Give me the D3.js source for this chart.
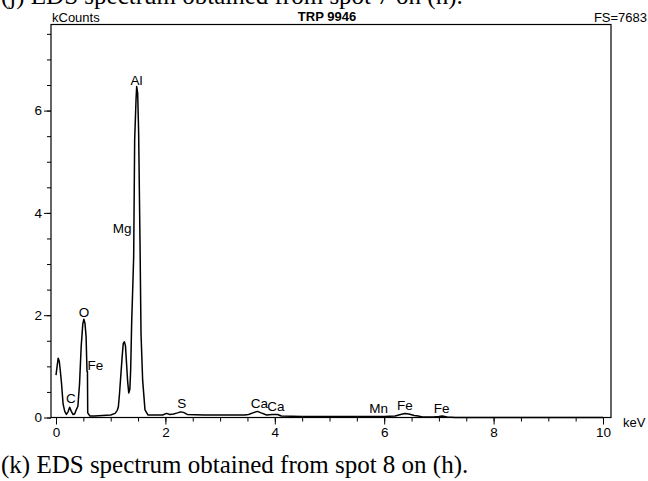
<!DOCTYPE html>
<html>
<head>
<meta charset="utf-8">
<script src="https://cdn.jsdelivr.net/npm/d3@7"></script>
<style>
  body { margin: 0; background: #fff; }
  svg { display: block; }
</style>
</head>
<body>
<div id="spectrum"></div>
<script>
// spectrum (keV, kCounts)
var energy = [0.00, 0.02, 0.04, 0.06, 0.08, 0.10, 0.13, 0.16, 0.19, 0.22, 0.25, 0.28, 0.31, 0.34, 0.37, 0.40,
  0.43, 0.46, 0.49, 0.51, 0.53, 0.55, 0.567, 0.575, 0.58, 0.62, 0.70, 0.85, 1.00, 1.08, 1.12, 1.14, 1.16, 1.18,
  1.21, 1.23, 1.25, 1.27, 1.29, 1.31, 1.33, 1.35, 1.365, 1.383, 1.40, 1.42, 1.438, 1.463, 1.475, 1.493, 1.511,
  1.536, 1.554, 1.584, 1.627, 1.68, 1.80, 1.95, 2.02, 2.08, 2.15, 2.22, 2.28, 2.33, 2.40, 2.7, 3.0, 3.3, 3.45,
  3.52, 3.60, 3.68, 3.75, 3.85, 3.95, 4.05, 4.12, 4.5, 5.0, 5.5, 6.0, 6.2, 6.3, 6.38, 6.45, 6.55, 6.62, 6.7,
  6.9, 7.0, 7.06, 7.15, 7.3, 8.0, 9.0, 10.0];
var counts = [0.83, 1.00, 1.16, 1.10, 0.90, 0.68, 0.26, 0.12, 0.06, 0.11, 0.20, 0.12, 0.06, 0.07, 0.15, 0.22,
  0.65, 1.38, 1.83, 1.92, 1.84, 1.58, 0.90, 0.90, 0.09, 0.03, 0.03, 0.04, 0.05, 0.08, 0.14, 0.21, 0.45, 0.75,
  1.20, 1.45, 1.48, 1.40, 1.05, 0.70, 0.48, 0.55, 0.93, 1.84, 2.43, 3.14, 5.42, 6.21, 6.47, 6.34, 5.56,
  3.41, 1.65, 0.73, 0.15, 0.05, 0.05, 0.05, 0.08, 0.06, 0.07, 0.09, 0.11, 0.10, 0.06, 0.05, 0.05, 0.05, 0.05,
  0.06, 0.09, 0.12, 0.09, 0.05, 0.06, 0.06, 0.03, 0.02, 0.02, 0.02, 0.02, 0.03, 0.06, 0.08, 0.07, 0.04, 0.03, 0.01,
  0.01, 0.02, 0.03, 0.01, 0.00, 0.00, 0.00, 0.00];

// element markers: label, keV position of label centre, kCounts of label baseline
var peakNames = ["C", "O", "Fe", "Mg", "Al", "S", "Ca", "Ca", "Mn", "Fe", "Fe"];
var peakKeV = [0.27, 0.51, 0.72, 1.21, 1.47, 2.30, 3.72, 4.02, 5.90, 6.38, 7.05];
var peakLevel = [0.28, 1.97, 0.93, 3.6, 6.5, 0.19, 0.19, 0.12, 0.09, 0.15, 0.09];

var xTicks = [0, 2, 4, 6, 8, 10];
var yTicks = [0, 2, 4, 6];
var fullScale = 7683;

var W = 648, H = 481;
var frame = {left: 51, right: 611, top: 24.5, bottom: 417.5};

var svg = d3.select("#spectrum")
    .append("svg")
    .attr("width", W)
    .attr("height", H);

var x = d3.scaleLinear().domain([0, 10]).range([56, 603]);
var y = d3.scaleLinear().domain([0, fullScale / 1000]).range([frame.bottom, frame.top]);

var axisFont = "Liberation Sans, Arial, sans-serif";
var serif = "Liberation Serif, Times New Roman, serif";
var fs = "13.5px";

// caption of the previous figure, cut by the top edge
svg.append("text")
    .attr("x", 1)
    .attr("y", 4)
    .attr("font-family", serif)
    .attr("font-size", "25px")
    .text("(j) EDS spectrum obtained from spot 7 on (h).");

// frame
svg.append("rect")
    .attr("x", frame.left)
    .attr("y", frame.top)
    .attr("width", frame.right - frame.left)
    .attr("height", frame.bottom - frame.top)
    .attr("fill", "none")
    .attr("stroke", "#000")
    .attr("stroke-width", 1.2);

// y axis, minor ticks every 0.5
var yAxis = d3.axisLeft(y)
    .tickValues(d3.range(0, 7.51, 0.5))
    .tickSize(4)
    .tickFormat("");
svg.append("g")
    .attr("transform", "translate(" + frame.left + ",0)")
    .call(yAxis)
    .call(g => g.select(".domain").remove());

var yMajor = d3.axisLeft(y)
    .tickValues(yTicks)
    .tickSize(7)
    .tickPadding(2)
    .tickFormat(d3.format("d"));
svg.append("g")
    .attr("transform", "translate(" + frame.left + ",0)")
    .call(yMajor)
    .call(g => g.select(".domain").remove())
    .selectAll("text")
    .attr("font-family", axisFont)
    .attr("font-size", fs);

// x axis
var xAxis = d3.axisBottom(x)
    .tickValues(d3.range(0, 10.01, 0.5))
    .tickSize(4)
    .tickFormat("");
svg.append("g")
    .attr("transform", "translate(0," + frame.bottom + ")")
    .call(xAxis)
    .call(g => g.select(".domain").remove());

var xMajor = d3.axisBottom(x)
    .tickValues(xTicks)
    .tickSize(7)
    .tickPadding(3)
    .tickFormat(d3.format("d"));
svg.append("g")
    .attr("transform", "translate(0," + frame.bottom + ")")
    .call(xMajor)
    .call(g => g.select(".domain").remove())
    .selectAll("text")
    .attr("font-family", axisFont)
    .attr("font-size", fs);

svg.selectAll(".tick line").attr("stroke", "#000");

// spectrum trace
var pts = energy.map((e, i) => [e, counts[i]]);
var line = d3.line()
    .x(d => x(d[0]))
    .y(d => y(d[1]));
svg.append("path")
    .datum(pts)
    .attr("d", line)
    .attr("fill", "none")
    .attr("stroke", "#000")
    .attr("stroke-width", 1.5)
    .attr("stroke-linejoin", "round");

// element labels
svg.selectAll(".peak")
    .data(peakNames)
    .enter()
    .append("text")
    .attr("class", "peak")
    .attr("x", (d, i) => x(peakKeV[i]))
    .attr("y", (d, i) => y(peakLevel[i]))
    .attr("text-anchor", "middle")
    .attr("font-family", axisFont)
    .attr("font-size", fs)
    .text(d => d);

// header texts
svg.append("text")
    .attr("x", 52)
    .attr("y", 22)
    .attr("font-family", axisFont)
    .attr("font-size", "13px")
    .text("kCounts");

svg.append("text")
    .attr("x", 327)
    .attr("y", 21)
    .attr("text-anchor", "middle")
    .attr("font-family", axisFont)
    .attr("font-weight", "bold")
    .attr("font-size", "13px")
    .text("TRP 9946");

svg.append("text")
    .attr("x", 647)
    .attr("y", 22)
    .attr("text-anchor", "end")
    .attr("font-family", axisFont)
    .attr("font-size", "13px")
    .text("FS=" + fullScale);

svg.append("text")
    .attr("x", 623)
    .attr("y", 427)
    .attr("font-family", axisFont)
    .attr("font-size", "13px")
    .text("keV");

// caption
svg.append("text")
    .attr("x", 1)
    .attr("y", 473)
    .attr("font-family", serif)
    .attr("font-size", "25px")
    .text("(k) EDS spectrum obtained from spot 8 on (h).");
</script>
</body>
</html>
